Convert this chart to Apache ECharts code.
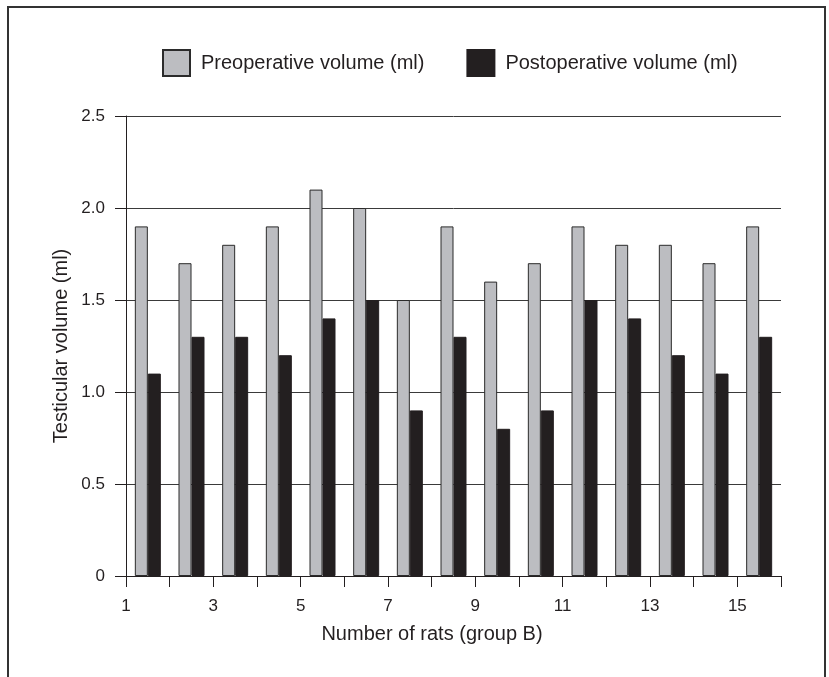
<!DOCTYPE html>
<html>
<head>
<meta charset="utf-8">
<script src="https://cdn.jsdelivr.net/npm/echarts@6/dist/echarts.min.js"></script>
<style>
html,body{margin:0;padding:0;background:#fff;}
#chart{width:829px;height:677px;}
</style>
</head>
<body>
<div id="chart"></div>
<script>
const categories = ['1','2','3','4','5','6','7','8','9','10','11','12','13','14','15'];
const preop = [1.9,1.7,1.8,1.9,2.1,2.0,1.5,1.9,1.6,1.7,1.9,1.8,1.8,1.7,1.9];
const postop = [1.1,1.3,1.3,1.2,1.4,1.5,0.9,1.3,0.8,0.9,1.5,1.4,1.2,1.1,1.3];
const seriesNames = ['Preoperative volume (ml)','Postoperative volume (ml)'];
const yTicks = [0,0.5,1.0,1.5,2.0,2.5];
const xTitle = 'Number of rats (group B)';
const yTitle = 'Testicular volume (ml)';

const FONT = '"Liberation Sans", Arial, Helvetica, sans-serif';
const TXT = '#231f20';
const chart = echarts.init(document.getElementById('chart'), null, {renderer:'canvas'});
chart.setOption({
  animation:false,
  backgroundColor:'#fff',
  textStyle:{fontFamily:FONT,color:TXT},
  grid:{left:126,right:48,top:116,bottom:101,containLabel:false},
  legend:{
    left:157, top:44,
    itemWidth:27, itemHeight:26, itemGap:42,
    icon:'rect',
    textStyle:{fontFamily:FONT,fontSize:20,color:TXT,padding:[0,0,0,6]},
    data:seriesNames
  },
  xAxis:[
    {type:'category',data:categories,show:false,boundaryGap:true},
    {type:'value',min:0,max:15,interval:1,position:'bottom',
     axisLine:{show:true,onZero:false,lineStyle:{color:TXT,width:1}},
     axisTick:{show:true,length:11,lineStyle:{color:TXT,width:1}},
     splitLine:{show:false},
     axisLabel:{margin:22,fontFamily:FONT,fontSize:17,color:TXT,
       formatter:function(v){return (v%2===0 && v<15)? String(v+1):'';}}
    }
  ],
  yAxis:{
    type:'value',min:yTicks[0],max:yTicks[yTicks.length-1],interval:0.5,
    axisLine:{show:true,lineStyle:{color:TXT,width:1}},
    axisTick:{show:true,length:11,lineStyle:{color:TXT,width:1}},
    splitLine:{show:true,lineStyle:{color:'#3a3a3a',width:1}},
    axisLabel:{margin:21,fontFamily:FONT,fontSize:17,color:TXT,
      formatter:function(v){return v===0?'0':v.toFixed(1);}}
  },
  series:[
    {name:seriesNames[0],type:'bar',xAxisIndex:0,data:preop,barWidth:13,barGap:'0%',
     itemStyle:{color:'#bcbdc1',borderColor:'#2b2b2b',borderWidth:1}},
    {name:seriesNames[1],type:'bar',xAxisIndex:0,data:postop,barWidth:13,barGap:'0%',
     itemStyle:{color:'#231f20',borderColor:'#231f20',borderWidth:1}}
  ],
  graphic:[
    {type:'polyline',shape:{points:[[8,677],[8,7],[825,7],[825,677]]},
     style:{stroke:'#333',lineWidth:2,fill:null},silent:true},
    {type:'text',x:432,y:634,style:{text:xTitle,font:'20px '+FONT,fill:TXT,align:'center',verticalAlign:'middle'}},
    {type:'text',x:61,y:346,rotation:Math.PI/2,style:{text:yTitle,font:'20px '+FONT,fill:TXT,align:'center',verticalAlign:'middle'}}
  ]
});
</script>
</body>
</html>
